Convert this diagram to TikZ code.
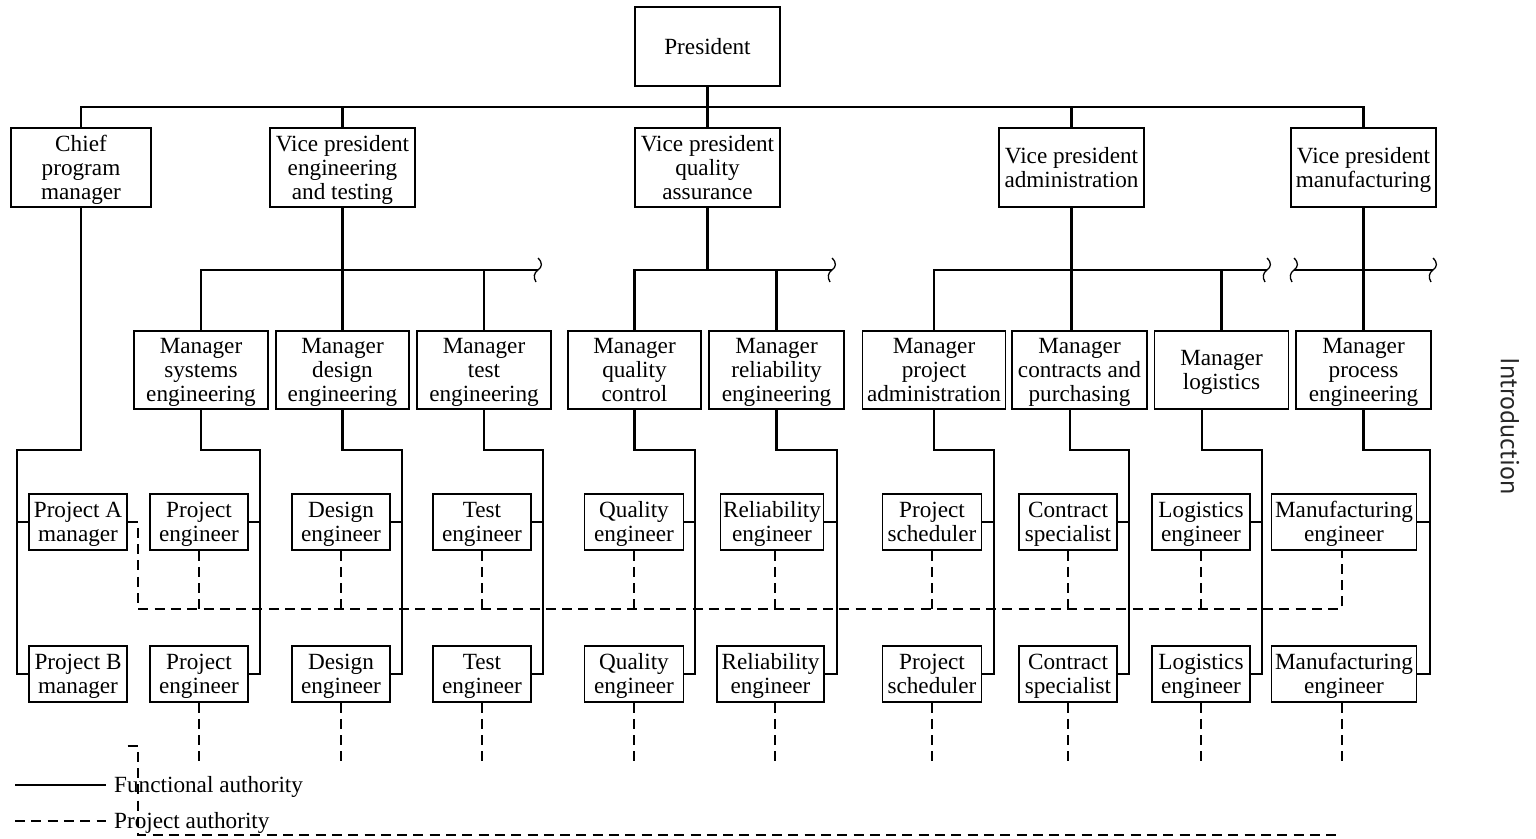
\documentclass[tikz,border=0pt]{standalone}
\usepackage{fontspec}
\setmainfont{Liberation Serif}
\newfontfamily\sidefont{PT Sans}
\newcommand\boxfont{\fontsize{23.2}{24}\selectfont}
% stacked, centred lines of a box; the first row is given a fixed height
\newcommand\bx[1]{\begin{tabular}{@{}c@{}}\rule{0pt}{22.7pt}#1\end{tabular}}
\begin{document}
\begin{tikzpicture}[x=1pt,y=-1pt,
  box/.style={draw, line width=1.1pt, inner sep=0pt, font=\boxfont},
  topbox/.style={box, minimum height=79pt},
  mgrbox/.style={box, minimum height=78pt},
  engbox/.style={box, minimum height=56pt},
  conn/.style={line width=2.2pt, line join=miter},
  proj/.style={line width=2.2pt, dash pattern=on 10pt off 6.3pt},
  wave/.style={line width=1.3pt},
  brk/.pic={\draw[wave] (0,-12) .. controls (5,-7) and (4,-3) .. (0,0)
                         .. controls (-4,3) and (-5,7) .. (-2,12);}
]
\useasboundingbox (0,0) rectangle (1536,838);

% ---- top level ----
\node[topbox, minimum width=145pt] (pres) at (707.5,46.5) {\bx{President}};

\node[topbox, minimum width=140pt] (chief) at (81,167.5) {\bx{Chief\\program\\manager}};
\node[topbox, minimum width=145pt] (vpeng) at (342.5,167.5) {\bx{Vice president\\engineering\\and testing}};
\node[topbox, minimum width=145pt] (vpqa)  at (707.5,167.5) {\bx{Vice president\\quality\\assurance}};
\node[topbox, minimum width=145pt] (vpadm) at (1071.5,167.5) {\bx{Vice president\\administration}};
\node[topbox, minimum width=145pt] (vpman) at (1363.5,167.5) {\bx{Vice president\\manufacturing}};

% ---- managers ----
\node[mgrbox, minimum width=134pt] (msys)  at (201,370)    {\bx{Manager\\systems\\engineering}};
\node[mgrbox, minimum width=133pt] (mdes)  at (342.5,370)  {\bx{Manager\\design\\engineering}};
\node[mgrbox, minimum width=134pt] (mtest) at (484,370)    {\bx{Manager\\test\\engineering}};
\node[mgrbox, minimum width=133pt] (mqc)   at (634.5,370)  {\bx{Manager\\quality\\control}};
\node[mgrbox, minimum width=135pt] (mrel)  at (776.5,370)  {\bx{Manager\\reliability\\engineering}};
\node[mgrbox, minimum width=143pt] (mpa)   at (934,370)    {\bx{Manager\\project\\administration}};
\node[mgrbox, minimum width=135pt] (mcon)  at (1079.5,370) {\bx{Manager\\contracts and\\purchasing}};
\node[mgrbox, minimum width=134pt] (mlog)  at (1221.5,370) {\bx{Manager\\logistics}};
\node[mgrbox, minimum width=135pt] (mproc) at (1363.5,370) {\bx{Manager\\process\\engineering}};

% ---- staff, two projects ----
\foreach \e/\cx/\w/\txt in {pam/78/98/{Project A\\manager}, pe1/199/98/{Project\\engineer},
    de1/341/98/{Design\\engineer}, te1/482/98/{Test\\engineer}, qe1/634/99/{Quality\\engineer},
    re1/772/103/{Reliability\\engineer}, ps1/932/99/{Project\\scheduler},
    cs1/1068/98/{Contract\\specialist}, le1/1201/98/{Logistics\\engineer},
    me1/1344/145/{Manufacturing\\engineer}}
  \node[engbox, minimum width=\w pt] (\e) at (\cx,522) {\bx{\txt}};
\foreach \e/\cx/\w/\txt in {pbm/78/98/{Project B\\manager}, pe2/199/98/{Project\\engineer},
    de2/341/98/{Design\\engineer}, te2/482/98/{Test\\engineer}, qe2/634/99/{Quality\\engineer},
    re2/770.5/107/{Reliability\\engineer}, ps2/932/99/{Project\\scheduler},
    cs2/1068/98/{Contract\\specialist}, le2/1201/98/{Logistics\\engineer},
    me2/1344/145/{Manufacturing\\engineer}}
  \node[engbox, minimum width=\w pt] (\e) at (\cx,674) {\bx{\txt}};

% ---- functional authority: president to vice presidents ----
\coordinate (tb) at (0,107);
\draw[conn] (pres.south) -- (vpqa.north);
\draw[conn] (chief.north) -- (chief.north |- tb) -| (vpman.north);
\draw[conn] (vpeng.north) -- (vpeng.north |- tb);
\draw[conn] (vpadm.north) -- (vpadm.north |- tb);

% ---- vice presidents to managers (buses with break marks) ----
\coordinate (eb) at (538,270);
\coordinate (qb) at (832,270);
\coordinate (ab) at (1267,270);
\coordinate (mbl) at (1294,270);
\coordinate (mbr) at (1433,270);
\draw[conn] (vpeng.south) -- (mdes.north);
\draw[conn] (msys.north) |- (eb);
\draw[conn] (mtest.north) -- (mtest.north |- eb);
\draw[conn] (vpqa.south) -- (vpqa.south |- qb);
\draw[conn] (mqc.north) |- (qb);
\draw[conn] (mrel.north) -- (mrel.north |- qb);
\draw[conn] (vpadm.south) -- (vpadm.south |- mcon.north);
\draw[conn] (mpa.north) |- (ab);
\draw[conn] (mlog.north) -- (mlog.north |- ab);
\draw[conn] (vpman.south) -- (mproc.north);
\draw[conn] (mbl) -- (mbr);
\foreach \p in {eb, qb, ab, mbl, mbr} \pic at (\p) {brk};

% ---- managers to their staff ----
\foreach \m/\sh/\rx/\e in {msys/0/260/pe, mdes/0/402/de, mtest/0/543/te, mqc/0/695/qe,
    mrel/0/837/re, mpa/0/994/ps, mcon/-9.5/1129/cs, mlog/-19.5/1262/le, mproc/0/1430/me}{
  \draw[conn] ([xshift=\sh pt]\m.south) |- (\rx,450) |- (\e2.east);
  \draw[conn] (\e1.east) -| (\rx,450);
}
\draw[conn] (chief.south) |- (17,450) |- (pbm.west);
\draw[conn] (pam.west) -| (17,450);

% ---- project authority ----
\coordinate (pjA) at (138,609);
\draw[proj] (pam.east) -| (pjA) -| ([xshift=-2pt]me1.south);
\foreach \e/\sh in {pe1/0, de1/0, te1/0, qe1/0, re1/3, ps1/0, cs1/0, le1/0}
  \draw[proj] ([xshift=\sh pt]\e.south) -- ++(0,59);
\foreach \e/\sh in {pe2/0, de2/0, te2/0, qe2/0, re2/4.5, ps2/0, cs2/0, le2/0, me2/-2}
  \draw[proj] ([xshift=\sh pt]\e.south) -- ++(0,58);
\coordinate (pjBtail) at (127.5,746);
\coordinate (pjBc) at (138,835);
\coordinate (pjBend) at (1342,835);
\draw[proj] (pjBtail) -| (pjBc) -- (pjBend);

% ---- legend ----
\node[anchor=base west, inner sep=0pt, font=\boxfont] (lgf) at (114,792) {Functional authority};
\node[anchor=base west, inner sep=0pt, font=\boxfont] (lgp) at (114,828) {Project authority};
\coordinate (lgfs) at (15,785);
\coordinate (lgfe) at (106,785);
\coordinate (lgps) at (15,821);
\coordinate (lgpe) at (106,821);
\draw[conn] (lgfs) -- (lgfe);
\draw[proj] (lgps) -- (lgpe);

% ---- running head ----
\node[rotate=-90, inner sep=0pt, text=black!85, font=\sidefont\fontsize{26}{28}\selectfont] (intro) at (1510,426) {Introduction};
\end{tikzpicture}
\end{document}
